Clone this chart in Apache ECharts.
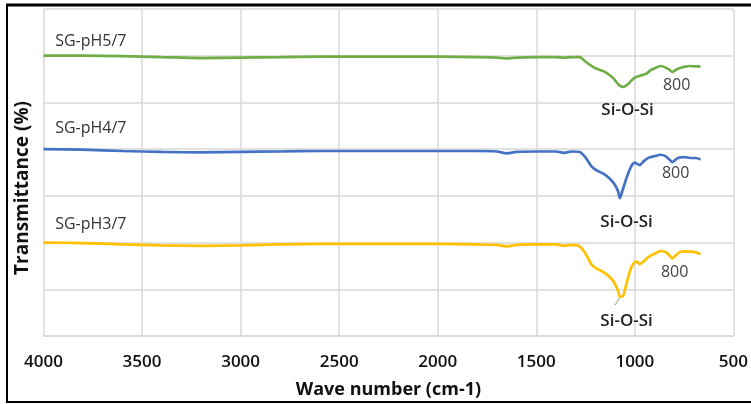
<!DOCTYPE html>
<html>
<head>
<meta charset="utf-8">
<script src="https://cdn.jsdelivr.net/npm/echarts@6/dist/echarts.min.js"></script>
<style>
html,body{margin:0;padding:0;background:#fff;}
#chart{width:751px;height:404px;}
</style>
</head>
<body>
<div id="chart"></div>
<script>
// Data
const wavenumbers = [4000, 3800, 3600, 3400, 3200, 3000, 2800, 2600, 2400, 2200, 2000, 1800, 1700, 1650, 1600, 1500, 1400, 1360, 1320, 1280, 1250, 1220, 1200, 1150, 1110, 1085, 1076, 1060, 1045, 1030, 1015, 1000, 990, 975, 960, 940, 920, 900, 870, 845, 825, 810, 795, 775, 750, 720, 690, 667];
const pH5 = [60.0, 60.0, 59.9, 59.7, 59.5, 59.6, 59.7, 59.8, 59.8, 59.8, 59.8, 59.7, 59.6, 59.4, 59.6, 59.7, 59.7, 59.6, 59.7, 59.7, 58.7, 57.8, 57.3, 56.5, 55.2, 53.9, 53.6, 53.3, 53.6, 54.1, 54.8, 55.3, 55.5, 55.7, 55.9, 56.2, 56.9, 57.3, 57.8, 57.5, 57.0, 56.5, 56.9, 57.3, 57.6, 57.8, 57.7, 57.7];
const pH4 = [40.0, 39.9, 39.6, 39.4, 39.3, 39.4, 39.5, 39.6, 39.6, 39.6, 39.6, 39.6, 39.5, 39.1, 39.4, 39.5, 39.5, 39.2, 39.5, 39.4, 38.2, 36.3, 35.6, 34.5, 32.9, 31.0, 29.5, 31.5, 33.5, 35.2, 36.6, 37.1, 36.9, 36.6, 37.2, 37.9, 38.3, 38.5, 38.8, 38.5, 37.8, 37.2, 37.7, 38.2, 38.3, 38.1, 38.1, 37.8];
const pH3 = [20.0, 19.9, 19.6, 19.4, 19.3, 19.4, 19.6, 19.7, 19.7, 19.7, 19.7, 19.6, 19.5, 19.2, 19.5, 19.6, 19.6, 19.3, 19.5, 19.2, 17.6, 15.3, 14.6, 13.4, 11.8, 9.6, 8.4, 8.6, 10.8, 13.2, 15.0, 15.8, 15.9, 15.4, 15.8, 16.6, 17.2, 17.6, 18.2, 18.0, 17.3, 16.6, 17.2, 17.9, 18.1, 18.05, 17.9, 17.5];
const seriesNames = ['SG-pH5/7', 'SG-pH4/7', 'SG-pH3/7'];
const xTicks = [4000, 3500, 3000, 2500, 2000, 1500, 1000, 500];
const bandLabel = 'Si-O-Si';
const peakLabel = '800';
const xTitle = 'Wave number (cm-1)';
const yTitle = 'Transmittance (%)';

const colors = ['#70ad47', '#4472c4', '#ffc000'];
const FONT = 'Open Sans';

function pairs(vals) { return wavenumbers.map((w, i) => [w, vals[i]]); }

function marks(nameCoord, peakCoord, bandCoord, name) {
  const base = { symbol: 'circle', symbolSize: 0 };
  return {
    silent: true,
    animation: false,
    data: [
      Object.assign({}, base, { coord: nameCoord, label: { show: true, position: 'inside', align: 'center', verticalAlign: 'middle', formatter: name, color: '#333', fontSize: 16, fontFamily: FONT } }),
      Object.assign({}, base, { coord: peakCoord, label: { show: true, position: 'inside', align: 'center', verticalAlign: 'middle', formatter: peakLabel, color: '#444', fontSize: 16, fontFamily: FONT } }),
      Object.assign({}, base, { coord: bandCoord, label: { show: true, position: 'inside', align: 'center', verticalAlign: 'middle', formatter: bandLabel, color: '#222', fontSize: 17, fontWeight: 600, fontFamily: FONT } })
    ]
  };
}

const chart = echarts.init(document.getElementById('chart'), null, { renderer: 'canvas' });
const lineStyleBase = { width: 2.7 };
chart.setOption({
  animation: false,
  backgroundColor: '#fff',
  grid: { left: 43.5, right: 9, top: 9, bottom: 68, containLabel: false },
  xAxis: {
    type: 'value', min: 500, max: 4000, interval: 500, inverse: true,
    name: xTitle, nameLocation: 'middle', nameGap: 45,
    nameTextStyle: { fontFamily: FONT, fontSize: 18, fontWeight: 'bold', color: '#111' },
    axisLine: { show: true, lineStyle: { color: '#d9d9d9', width: 1.5 } },
    axisTick: { show: false },
    axisLabel: { margin: 18, fontFamily: FONT, fontSize: 17, fontWeight: 600, color: '#111', formatter: v => String(v) },
    splitLine: { show: true, lineStyle: { color: '#d9d9d9', width: 1.5 } }
  },
  yAxis: {
    type: 'value', min: 0, max: 70, interval: 10,
    axisLine: { show: false }, axisTick: { show: false }, axisLabel: { show: false },
    splitLine: { show: true, lineStyle: { color: '#d9d9d9', width: 1.5 } }
  },
  series: [
    {
      name: seriesNames[0], type: 'line', data: pairs(pH5), showSymbol: false, smooth: 0.25,
      lineStyle: Object.assign({ color: colors[0] }, lineStyleBase), itemStyle: { color: colors[0] },
      markPoint: marks([3760, 62.95], [788, 53.7], [1037, 48.4], seriesNames[0])
    },
    {
      name: seriesNames[1], type: 'line', data: pairs(pH4), showSymbol: false, smooth: 0.25,
      lineStyle: Object.assign({ color: colors[1] }, lineStyleBase), itemStyle: { color: colors[1] },
      markPoint: marks([3760, 44.45], [793, 34.8], [1042, 24.3], seriesNames[1])
    },
    {
      name: seriesNames[2], type: 'line', data: pairs(pH3), showSymbol: false, smooth: 0.25,
      lineStyle: Object.assign({ color: colors[2] }, lineStyleBase), itemStyle: { color: colors[2] },
      markPoint: marks([3760, 23.8], [798, 13.6], [1042, 3.1], seriesNames[2]),
      markLine: {
        silent: true, symbol: 'none', animation: false,
        lineStyle: { color: '#999', width: 1, type: 'solid' }, label: { show: false },
        data: [[{ coord: [1077, 8.2] }, { coord: [1101, 6.6] }]]
      }
    }
  ],
  graphic: [
    { type: 'text', x: 23, y: 188, rotation: Math.PI / 2,
      style: { text: yTitle, fontFamily: FONT, fontSize: 19, fontWeight: 'bold', fill: '#111', align: 'center', verticalAlign: 'middle' } },
    { type: 'line', shape: { x1: 6, y1: 5, x2: 751, y2: 5 }, style: { stroke: '#000', lineWidth: 3 } },
    { type: 'line', shape: { x1: 7, y1: 4, x2: 7, y2: 403 }, style: { stroke: '#000', lineWidth: 2 } },
    { type: 'line', shape: { x1: 6, y1: 402, x2: 751, y2: 402 }, style: { stroke: '#000', lineWidth: 2 } }
  ]
});
</script>
</body>
</html>
